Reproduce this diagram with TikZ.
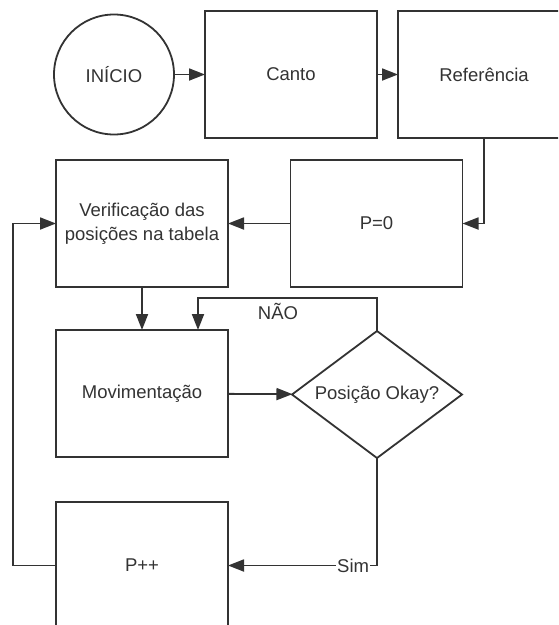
\documentclass[tikz,border=0pt]{standalone}
\usepackage{fontspec}
\setmainfont{Liberation Sans}
\usetikzlibrary{arrows.meta,shapes.geometric}
\definecolor{ln}{HTML}{333333}
\definecolor{tx}{HTML}{333333}
\begin{document}
\begin{tikzpicture}[x=1pt,y=-1pt,
  every node/.style={font=\fontsize{18.5}{24}\selectfont, text=tx},
  box/.style={draw=ln, line width=1.8pt, rectangle, minimum width=172pt, minimum height=127pt, inner sep=0pt, outer sep=0pt, align=center},
  startc/.style={draw=ln, line width=1.8pt, circle, minimum size=120pt, inner sep=0pt, outer sep=0pt},
  decis/.style={draw=ln, line width=1.8pt, diamond, minimum width=170pt, minimum height=127pt, inner sep=0pt, outer sep=0pt},
  conn/.style={draw=ln, line width=1.8pt, -{Triangle[length=16pt,width=12pt]}},
  lbl/.style={fill=white, inner sep=1pt}]
\clip (0,0) rectangle (558,625);
\fill[white] (0,0) rectangle (558,625);
\node[startc] (ini) at (114,74.5) {INÍCIO};
\node[box] (canto) at (291,74.5) {Canto};
\node[box] (ref) at (484,74.5) {Referência};
\node[box] (ver) at (142,223.5) {Verificação das\\posições na tabela};
\node[box] (p0) at (376.5,223.5) {P=0};
\node[box] (mov) at (142,393.5) {Movimentação};
\node[decis] (dec) at (377,394.5) {};
\node (dect) at (dec.center) {Posição Okay?};
\node[box] (pp) at (142,565.5) {P++};
\coordinate (nao) at (198,298);
\coordinate (lp) at (13,565.5);
\draw[conn] (ini) -- (canto);
\draw[conn] (canto) -- (ref);
\draw[conn] (ref.south) |- (p0.east);
\draw[conn] (p0) -- (ver);
\draw[conn] (ver) -- (mov);
\draw[conn] (dec.north) |- (nao) -- (nao |- mov.north);
\node (naolbl) at (278,311) {NÃO};
\draw[conn] (mov) -- (dec);
\draw[conn] (dec.south) |- node[lbl, pos=0.58] {Sim} (pp.east);
\draw[conn] (pp.west) -- (lp) |- (ver.west);
\end{tikzpicture}
\end{document}
